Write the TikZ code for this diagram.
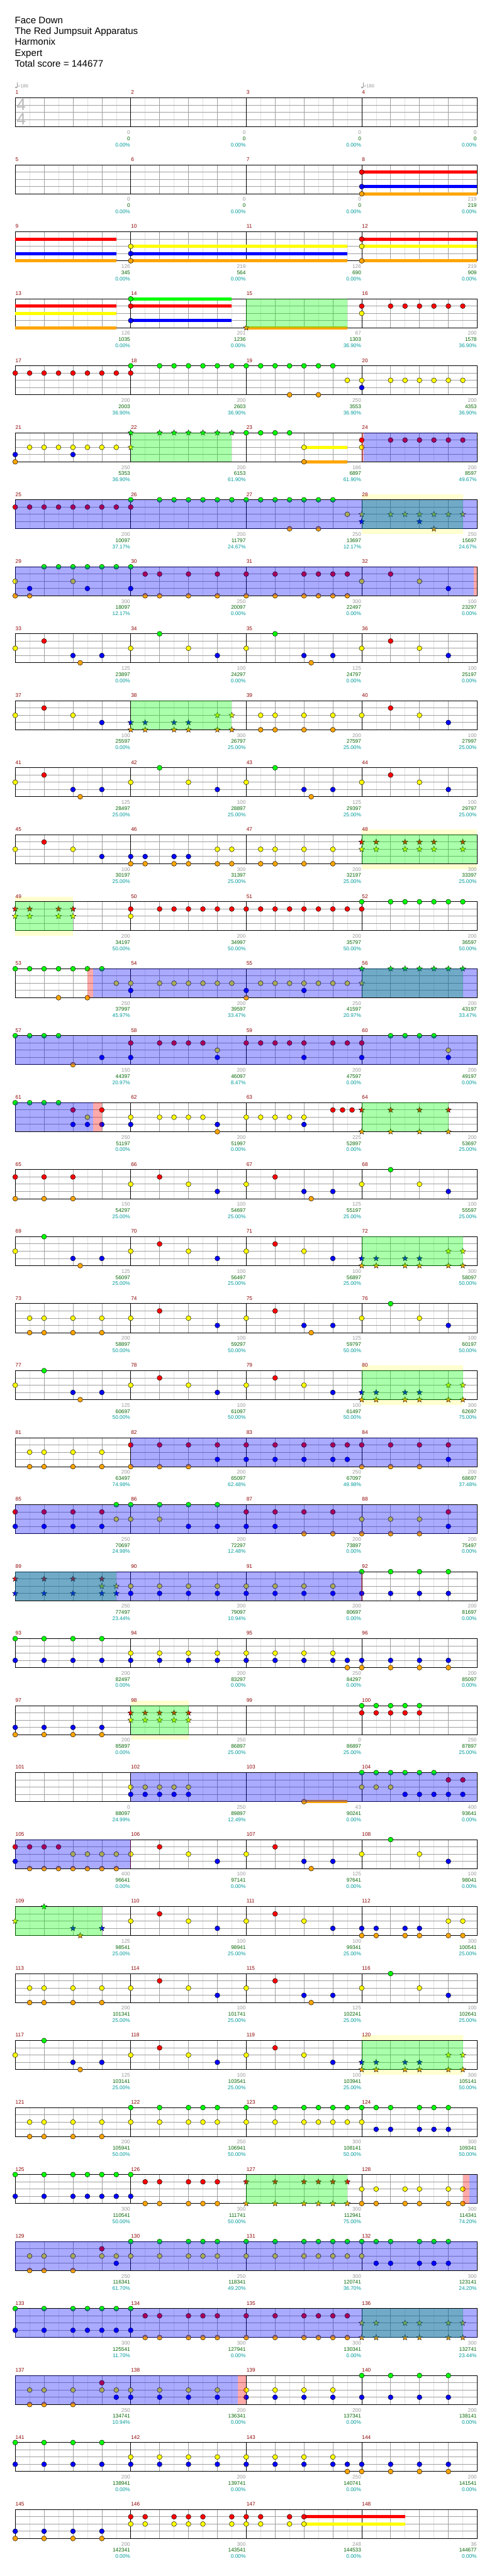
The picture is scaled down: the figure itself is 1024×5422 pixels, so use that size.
\documentclass[tikz,border=0pt]{standalone}
\usepackage{fontspec}
\setmainfont{Liberation Sans}
\usetikzlibrary{shapes.geometric}
\definecolor{laneG}{RGB}{0,255,0}
\definecolor{laneR}{RGB}{255,0,0}
\definecolor{laneY}{RGB}{255,255,0}
\definecolor{laneB}{RGB}{0,0,255}
\definecolor{laneO}{RGB}{255,165,0}
\definecolor{barnum}{RGB}{140,0,0}
\definecolor{ptsgray}{RGB}{153,153,153}
\definecolor{ptsgreen}{RGB}{0,100,0}
\definecolor{ptsteal}{RGB}{0,153,153}
\definecolor{gridlo}{RGB}{225,225,225}
\definecolor{gridhi}{RGB}{160,160,160}
\definecolor{uniyel}{RGB}{255,255,208}
\definecolor{sigray}{RGB}{185,185,185}
% lane heights inside a staff
\def\lyG{0}\def\lyR{15.25}\def\lyY{30.5}\def\lyB{45.75}\def\lyO{61}
\newcommand{\notes}[2]{\foreach \p in {#2}{\draw[notedot,fill=lane#1] ({32+\p*30.375},\csname ly#1\endcsname) circle (5.2pt);}}
\newcommand{\stars}[2]{\foreach \p in {#2}{\node[starnote,fill=lane#1] at ({32+\p*30.375},\csname ly#1\endcsname) {};}}
\newcommand{\sus}[3]{\fill[lane#1] ({32+#2*30.375},{\csname ly#1\endcsname-3.5}) rectangle ({32+#3*30.375},{\csname ly#1\endcsname+3.5});}
\newcommand{\odzone}[2]{\fill[laneB,opacity=.333] ({32+#1*30.375},0) rectangle ({32+#2*30.375},61);}
\newcommand{\spzone}[2]{\fill[laneG,opacity=.333] ({32+#1*30.375},0) rectangle ({32+#2*30.375},61);}
\newcommand{\actzone}[2]{\fill[laneR,opacity=.333] ({32+#1*30.375},0) rectangle ({32+#2*30.375},61);}
\newcommand{\uzone}[2]{\fill[uniyel] ({32+#1*30.375},-11) rectangle ({32+#2*30.375},72);}
\newcommand{\staff}[2]{%
  \fill[white] (32,0) rectangle (1004,61);
  \foreach \p in {1,3,...,31}{\draw[gridlo,line width=.8pt] ({32+\p*30.375},0) -- ++(0,61);}
  \foreach \p in {2,4,6,10,12,14,18,20,22,26,28,30}{\draw[gridhi,line width=.8pt] ({32+\p*30.375},0) -- ++(0,61);}
  \foreach \l in {15.25,30.5,45.75}{\draw[gridhi,line width=1.3pt] (32,\l) -- (1004,\l);}
  \foreach \p in {8,16,24}{\draw[black,line width=.9pt] ({32+\p*30.375},0) -- ++(0,61);}
  \draw[black,line width=1.3pt] (32,0) rectangle (1004,61);
  \foreach \ga/\gb/\gc [count=\i from 0] in {#2}{%
    \pgfmathtruncatemacro\mnum{4*(#1-1)+\i+1}%
    \node[barno] at ({32.5+\i*243},-7.5) {\mnum};
    \node[pts,ptsgray] at ({31+(\i+1)*243},76.5) {\ga};
    \node[pts,ptsgreen] at ({31+(\i+1)*243},89.5) {\gb};
    \node[pts,ptsteal] at ({31+(\i+1)*243},102.5) {\gc\%};
  }}
\tikzset{
  chartrow/.style={shift={(0,{206+(#1-1)*141})}},
  notedot/.style={draw=black,line width=.6pt},
  starnote/.style={shape=star,star points=5,star point ratio=2.3,minimum size=12.5pt,inner sep=0pt,draw=black,line width=.5pt},
  barno/.style={anchor=base west,inner sep=0pt,text=barnum,font=\fontsize{11}{13}\selectfont},
  pts/.style={anchor=base east,inner sep=0pt,font=\fontsize{11}{13}\selectfont},
  title/.style={anchor=base west,inner sep=0pt,font=\fontsize{20}{24}\selectfont},
  timesig/.style={inner sep=0pt,text=sigray,font=\fontsize{35}{35}\selectfont},
  tempo/.style={anchor=west,inner sep=0pt,text=ptsgray,font=\fontsize{10}{12}\selectfont}
}
\begin{document}
\begin{tikzpicture}[x=1pt,y=-1pt]
\useasboundingbox (0,0) rectangle (1024,5422);
% song header
\node[title] (song) at (31,49) {Face Down};
\node[title] (band) at (31,72) {The Red Jumpsuit Apparatus};
\node[title] (chart) at (31,95) {Harmonix};
\node[title] (level) at (31,118) {Expert};
\node[title] (total) at (31,141) {Total score = 144677};
% bars 1-4
\begin{scope}[chartrow=1]
  \staff{1}{0/0/0.00,0/0/0.00,0/0/0.00,0/0/0.00}
  \node[timesig] (sigtop) at (44.5,14.5) {4};
  \node[timesig] (sigbot) at (44.5,44.5) {4};
  \foreach \tx in {32,760}{
    \fill[ptsgray] (\tx+1.8,-22) ellipse (2.3pt and 1.8pt);
    \draw[ptsgray,line width=.6pt] (\tx+3.9,-22) -- (\tx+3.9,-33);
    \node[tempo] at (\tx+5,-25) {=186};}
\end{scope}
% bars 5-8
\begin{scope}[chartrow=2]
  \staff{2}{0/0/0.00,0/0/0.00,0/0/0.00,219/219/0.00}
  \sus{R}{24}{32}\sus{B}{24}{32}\sus{O}{24}{32}
  \notes{R}{24}\notes{B}{24}\notes{O}{24}
\end{scope}
% bars 9-12
\begin{scope}[chartrow=3]
  \staff{3}{126/345/0.00,219/564/0.00,126/690/0.00,219/909/0.00}
  \sus{R}{0}{7}\sus{B}{0}{7}\sus{O}{0}{7}
  \sus{Y}{8}{23}\sus{B}{8}{23}\sus{O}{8}{23}
  \sus{R}{24}{32}\sus{Y}{24}{32}\sus{O}{24}{32}
  \notes{Y}{8,24}\notes{B}{8}\notes{O}{8,24}\notes{R}{24}
\end{scope}
% bars 13-16
\begin{scope}[chartrow=4]
  \staff{4}{126/1035/0.00,201/1236/0.00,67/1303/36.90,200/1578/36.90}
  \sus{R}{0}{7}\sus{Y}{0}{7}\sus{O}{0}{7}
  \sus{G}{8}{15}\sus{R}{8}{15}\sus{B}{8}{15}
  \notes{G}{8}\notes{R}{8}\notes{B}{8}
  \sus{O}{16}{23}\stars{O}{16}
  \notes{R}{24,26,27,28,29,30,31}\notes{Y}{24}
  \spzone{16}{23}
\end{scope}
% bars 17-20
\begin{scope}[chartrow=5]
  \staff{5}{200/2003/36.90,200/2603/36.90,250/3553/36.90,200/4353/36.90}
  \notes{R}{0,...,8}
  \notes{G}{8,10,11,12,13,14,15,16,17,18,19,20,21,22}
  \notes{O}{19,21}\notes{Y}{23,24,26,27,28,29,30,31}\notes{B}{24}
\end{scope}
% bars 21-24
\begin{scope}[chartrow=6]
  \staff{6}{250/5353/36.90,200/6153/61.90,186/6897/61.90,200/8597/49.67}
  \notes{B}{0,4}\notes{O}{0}\notes{Y}{1,2,3,4,5,6,7}
  \stars{G}{8,10,11,12,13,14,15}\stars{Y}{8}
  \notes{G}{16,17,18,19}
  \sus{Y}{20}{23}\sus{O}{20}{23}
  \notes{Y}{20,24}\notes{O}{20}\notes{R}{24,26,27,28,29,30,31}
  \spzone{8}{15}\actzone{24}{24.15}\odzone{24.15}{32}
\end{scope}
% bars 25-28
\begin{scope}[chartrow=7]
  \uzone{24}{31}
  \staff{7}{200/10097/37.17,200/11797/24.67,250/13697/12.17,250/15697/24.67}
  \notes{R}{0,...,8}
  \notes{G}{8,10,11,12,13,14,15,16,17,18,19,20,21,22}
  \notes{Y}{23}\notes{O}{19,21}
  \stars{Y}{24,26,27,28,29,30,31}\stars{B}{24,28}\stars{O}{29}
  \spzone{24}{31}\odzone{0}{32}
\end{scope}
% bars 29-32
\begin{scope}[chartrow=8]
  \staff{8}{300/18097/12.17,250/20097/0.00,300/22497/0.00,100/23297/0.00}
  \notes{Y}{0,4,24,28}
  \notes{O}{0,1,9,10,12,14,16,18,20,21,22,23}
  \notes{B}{1,5,8,30}\notes{G}{2,...,8}
  \notes{R}{9,10,12,14,16,18,20,21,22,23,26}
  \odzone{0}{31.77}\actzone{31.77}{32}
\end{scope}
% bars 33-36
\begin{scope}[chartrow=9]
  \staff{9}{125/23897/0.00,100/24297/0.00,125/24797/0.00,100/25197/0.00}
  \notes{Y}{0,8,12,16,24,28}\notes{R}{2,26}\notes{B}{4,6,14,20,22,30}
  \notes{O}{4.5,20.5}\notes{G}{10,18}
\end{scope}
% bars 37-40
\begin{scope}[chartrow=10]
  \staff{10}{100/25597/0.00,300/26797/25.00,200/27597/25.00,100/27997/25.00}
  \notes{Y}{0,4,17,18,20,22,24,28}\notes{R}{2,26}\notes{B}{6,30}
  \notes{O}{17,18,20,22}
  \stars{B}{8,9,11,12}\stars{O}{8,9,11,12,14,15}\stars{Y}{14,15}
  \spzone{8}{15}
\end{scope}
% bars 41-44
\begin{scope}[chartrow=11]
  \staff{11}{125/28497/25.00,100/28897/25.00,125/29397/25.00,100/29797/25.00}
  \notes{Y}{0,8,12,16,24,28}\notes{R}{2,26}\notes{B}{4,6,14,20,22,30}
  \notes{O}{4.5,20.5}\notes{G}{10,18}
\end{scope}
% bars 45-48
\begin{scope}[chartrow=12]
  \uzone{24}{32}
  \staff{12}{100/30197/25.00,300/31397/25.00,200/32197/25.00,300/33397/25.00}
  \notes{Y}{0,4,14,15,17,18,20,22}\notes{R}{2}\notes{B}{6,8,9,11,12}
  \notes{O}{8,9,11,12,14,15,17,18,20,22}
  \stars{R}{24,25,27,28,29,31}\stars{Y}{24,25,27,28,29,31}
  \spzone{24}{32}
\end{scope}
% bars 49-52
\begin{scope}[chartrow=13]
  \uzone{0}{4}
  \staff{13}{200/34197/50.00,200/34997/50.00,200/35797/50.00,200/36597/50.00}
  \stars{R}{0,1,3,4}\stars{Y}{0,1,3,4}\spzone{0}{4}
  \notes{R}{8,10,11,12,13,14,15,16,17,18,19,20,21,22,23,24}\notes{Y}{8}
  \notes{G}{24,26,27,28,29,30,31}
\end{scope}
% bars 53-56
\begin{scope}[chartrow=14]
  \staff{14}{250/37997/45.97,200/39597/33.47,250/41597/20.97,200/43197/33.47}
  \notes{G}{0,...,6}\notes{O}{3,5,16}
  \notes{Y}{7,8,10,11,12,13,14,15,17,18,19,20,21,22,23}\notes{B}{8,16,20}
  \stars{G}{24,26,27,28,29,30,31}\stars{Y}{24}
  \spzone{24}{31}\actzone{5}{5.4}\odzone{5.4}{32}
\end{scope}
% bars 57-60
\begin{scope}[chartrow=15]
  \staff{15}{150/44397/20.97,200/46097/8.47,200/47597/0.00,200/49197/0.00}
  \notes{G}{0,1,2,3,26,27,28,29}\notes{O}{4}\notes{B}{6,8,14,20,24,30}
  \notes{R}{8,10,11,12,13,16,17,18,19,20,22,23,24}\notes{Y}{14,30}
  \odzone{0}{32}
\end{scope}
% bars 61-64
\begin{scope}[chartrow=16]
  \staff{16}{250/51197/0.00,200/51997/0.00,225/52897/0.00,200/53697/25.00}
  \notes{G}{0,1,2,3}\notes{R}{4,6,22,22.67,23.33}
  \notes{Y}{5,8,10,11,12,13,16,17,18,19,20}\notes{B}{4,5,6,8,14,20}\notes{O}{14}
  \stars{R}{24,26,28,30}\stars{O}{24,26,28,30}
  \spzone{24}{30}\odzone{0}{5.4}\actzone{5.4}{6}
\end{scope}
% bars 65-68
\begin{scope}[chartrow=17]
  \staff{17}{150/54297/25.00,100/54697/25.00,125/55197/25.00,100/55597/25.00}
  \notes{R}{0,2,4,10,18}\notes{O}{0,2,4,20.5}\notes{Y}{8,12,16,24,28}
  \notes{B}{14,20,22,30}\notes{G}{26}
\end{scope}
% bars 69-72
\begin{scope}[chartrow=18]
  \staff{18}{125/56097/25.00,100/56497/25.00,100/56897/25.00,300/58097/50.00}
  \notes{Y}{0,8,12,16,20}\notes{G}{2}\notes{B}{4,6,14,22}\notes{O}{4.5}\notes{R}{10,18}
  \stars{B}{24,25,27,28}\stars{O}{24,25,27,28,30,31}\stars{Y}{30,31}
  \spzone{24}{31}
\end{scope}
% bars 73-76
\begin{scope}[chartrow=19]
  \staff{19}{200/58897/50.00,100/59297/50.00,125/59797/50.00,100/60197/50.00}
  \notes{Y}{1,2,4,6,8,12,16,24,28}\notes{O}{1,2,4,6,20.5}\notes{R}{10,18}
  \notes{B}{14,20,22,30}\notes{G}{26}
\end{scope}
% bars 77-80
\begin{scope}[chartrow=20]
  \uzone{24}{31}
  \staff{20}{125/60697/50.00,100/61097/50.00,100/61497/50.00,300/62697/75.00}
  \notes{Y}{0,8,12,16,20}\notes{G}{2}\notes{B}{4,6,14,22}\notes{O}{4.5}\notes{R}{10,18}
  \stars{B}{24,25,27,28}\stars{O}{24,25,27,28,30,31}\stars{Y}{30,31}
  \spzone{24}{31}
\end{scope}
% bars 81-84
\begin{scope}[chartrow=21]
  \staff{21}{200/63497/74.98,200/65097/62.48,250/67097/49.98,200/68697/37.48}
  \notes{Y}{1,2,4,6}\notes{O}{1,2,4,6,8,10,12,24,26,28}
  \notes{R}{8,10,12,14,16,18,20,22,23,24,26,28,30}
  \notes{B}{14,16,18,20,22,23,30}
  \odzone{8}{32}
\end{scope}
% bars 85-88
\begin{scope}[chartrow=22]
  \staff{22}{250/70697/24.98,200/72297/12.48,200/73897/0.00,200/75497/0.00}
  \notes{R}{0,2,4,6,16,18,20,22,30}\notes{B}{0,2,4,6,12,14,16,18,30}
  \notes{G}{7,8,10,12,14}\notes{Y}{7,8,10,24,26,28}\notes{O}{20,22,24,26,28}
  \odzone{0}{32}
\end{scope}
% bars 89-92
\begin{scope}[chartrow=23]
  \staff{23}{250/77497/23.44,200/79097/10.94,200/80697/0.00,200/81697/0.00}
  \stars{R}{0,2,4,6}\stars{B}{0,2,4,6,7}\stars{Y}{6,7}\spzone{0}{7}
  \notes{Y}{8,10,12,14,16,18,20,22}
  \notes{B}{8,10,12,14,16,18,20,22,24,26,28,30}\notes{G}{24,26,28,30}
  \odzone{0}{24}\actzone{23.97}{24.03}
\end{scope}
% bars 93-96
\begin{scope}[chartrow=24]
  \staff{24}{200/82497/0.00,200/83297/0.00,250/84297/0.00,200/85097/0.00}
  \notes{G}{0,2,4,6}\notes{B}{0,2,4,6,8,10,12,14,16,18,20,22,23,24,26,28,30}
  \notes{Y}{8,10,12,14,16,18,20,22}\notes{O}{23,24,26,28,30}
\end{scope}
% bars 97-100
\begin{scope}[chartrow=25]
  \uzone{8}{12}
  \staff{25}{200/85897/0.00,250/86897/25.00,0/86897/25.00,250/87897/25.00}
  \notes{B}{0,2,4,6}\notes{O}{0,2,4,6}
  \stars{R}{8,9,10,11,12}\stars{Y}{8,9,10,11,12}\spzone{8}{12}
  \notes{G}{24,25,26,27,28}\notes{R}{24,25,26,27,28}
\end{scope}
% bars 101-104
\begin{scope}[chartrow=26]
  \staff{26}{0/88097/24.99,250/89897/12.49,43/90241/0.00,400/93641/0.00}
  \notes{Y}{8,9,10,11,12,24,25,26}\notes{B}{8,9,10,11,12,27,28,29,30,31}
  \sus{O}{20}{23}\notes{O}{20}
  \notes{G}{24,25,26,27,28,29}\notes{R}{30,31}
  \odzone{8}{32}
\end{scope}
% bars 105-108
\begin{scope}[chartrow=27]
  \staff{27}{400/96641/0.00,100/97141/0.00,125/97641/0.00,100/98041/0.00}
  \notes{R}{0,1,2,3,10,18}\notes{B}{0,14,20,22,30}
  \notes{Y}{4,5,6,7,8,12,16,24,28}\notes{O}{1,2,3,4,5,6,7,20.5}\notes{G}{26}
  \odzone{0}{8}\actzone{7.97}{8.03}
\end{scope}
% bars 109-112
\begin{scope}[chartrow=28]
  \staff{28}{125/98541/25.00,100/98941/25.00,100/99341/25.00,300/100541/25.00}
  \stars{Y}{0}\stars{G}{2}\stars{B}{4,6}\stars{O}{4.5}\spzone{0}{6}
  \notes{Y}{8,12,16,20,30,31}\notes{R}{10,18}\notes{B}{14,22,24,25,27,28}
  \notes{O}{24,25,27,28,30,31}
\end{scope}
% bars 113-116
\begin{scope}[chartrow=29]
  \staff{29}{200/101341/25.00,100/101741/25.00,125/102241/25.00,100/102641/25.00}
  \notes{Y}{1,2,4,6,8,12,16,24,28}\notes{O}{1,2,4,6,20.5}\notes{R}{10,18}
  \notes{B}{14,20,22,30}\notes{G}{26}
\end{scope}
% bars 117-120
\begin{scope}[chartrow=30]
  \uzone{24}{31}
  \staff{30}{125/103141/25.00,100/103541/25.00,100/103941/25.00,300/105141/50.00}
  \notes{Y}{0,8,12,16,20}\notes{G}{2}\notes{B}{4,6,14,22}\notes{O}{4.5}\notes{R}{10,18}
  \stars{B}{24,25,27,28}\stars{O}{24,25,27,28,30,31}\stars{Y}{30,31}
  \spzone{24}{31}
\end{scope}
% bars 121-124
\begin{scope}[chartrow=31]
  \staff{31}{200/105941/50.00,250/106941/50.00,300/108141/50.00,300/109341/50.00}
  \notes{Y}{1,2,4,6,8,10,12,13,14,16,18,20,21,22,23,24}\notes{O}{1,2,4,6}
  \notes{G}{8,10,12,13,14,16,18,20,21,22,23,24,25,26,28,29,30}
  \notes{B}{25,26,28,29,30}
\end{scope}
% bars 125-128
\begin{scope}[chartrow=32]
  \staff{32}{300/110541/50.00,300/111741/50.00,300/112941/75.00,300/114341/74.20}
  \notes{G}{0,2,4,5,6,7,8}\notes{B}{0,2,4,5,6,7,8}
  \notes{R}{9,10,12,13,14}\notes{O}{9,10,12,13,14,24,25,27,28,30,31}
  \stars{R}{16,18,20,21,22,23}\stars{O}{16,18,20,21,22,23}\spzone{16}{23}
  \notes{Y}{24,25,27,28,30,31}
  \actzone{31}{31.46}\odzone{31.46}{32}
\end{scope}
% bars 129-132
\begin{scope}[chartrow=33]
  \staff{33}{250/116341/61.70,250/118341/49.20,300/120741/36.70,300/123141/24.20}
  \notes{Y}{1,2,4,6,7,8,10,12,13,14,16,18,20,21,22,23,24}\notes{O}{1,2,4}
  \notes{R}{6}\notes{B}{7,25,26,28,29,30}
  \notes{G}{8,10,12,13,14,16,18,20,21,22,23,24,25,26,28,29,30}
  \odzone{0}{32}
\end{scope}
% bars 133-136
\begin{scope}[chartrow=34]
  \staff{34}{300/125541/11.70,300/127941/0.00,300/130341/0.00,300/132741/23.44}
  \notes{G}{0,2,4,5,6,7,8}\notes{B}{0,2,4,5,6,7,8}
  \notes{R}{9,10,12,13,14,16,18,20,21,22,23}\notes{O}{9,10,12,13,14,16,18,20,21,22,23}
  \stars{Y}{24,25,27,28,30,31}\stars{O}{24,25,27,28,30,31}
  \spzone{24}{31}\odzone{0}{32}
\end{scope}
% bars 137-140
\begin{scope}[chartrow=35]
  \staff{35}{250/134741/10.94,200/136341/0.00,200/137341/0.00,200/138141/0.00}
  \notes{Y}{1,2,4,6,7,8,10,12,14,16,18,20,22}\notes{O}{1,2,4}\notes{R}{6}
  \notes{B}{7,8,10,12,14,16,18,20,22,24,26,28,30}\notes{G}{24,26,28,30}
  \odzone{0}{15.43}\actzone{15.43}{16}
\end{scope}
% bars 141-144
\begin{scope}[chartrow=36]
  \staff{36}{200/138941/0.00,200/139741/0.00,250/140741/0.00,200/141541/0.00}
  \notes{G}{0,2,4,6}\notes{B}{0,2,4,6,8,10,12,14,16,18,20,22,23,24,26,28,30}
  \notes{Y}{8,10,12,14,16,18,20,22}\notes{O}{23,24,26,28,30}
\end{scope}
% bars 145-148
\begin{scope}[chartrow=37]
  \staff{37}{200/142341/0.00,300/143541/0.00,248/144533/0.00,36/144677/0.00}
  \notes{B}{0,2,4,6}\notes{O}{0,2,4,6}
  \sus{R}{20}{27}\sus{Y}{20}{27}
  \notes{R}{8,9,11,12,13,15,16,17,19,20}\notes{Y}{8,9,11,12,13,15,16,17,19,20}
\end{scope}
\end{tikzpicture}
\end{document}
